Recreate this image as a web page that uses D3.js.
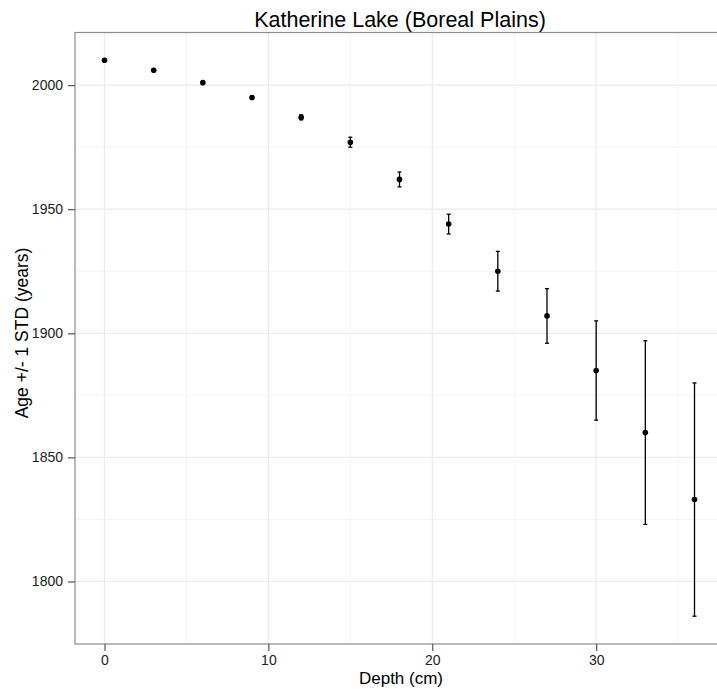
<!DOCTYPE html>
<html>
<head>
<meta charset="utf-8">
<script src="https://cdn.jsdelivr.net/npm/d3@7"></script>
<style>
  body { margin: 0; background: #fff; }
  svg { display: block; font-family: "Liberation Sans", Arial, sans-serif; }
</style>
</head>
<body>
<div id="chart"></div>
<script>
// data
var depths = [0, 3, 6, 9, 12, 15, 18, 21, 24, 27, 30, 33, 36]
var ages   = [2010, 2006, 2001, 1995, 1987, 1977, 1962, 1944, 1925, 1907, 1885, 1860, 1833]
var stds   = [0, 0, 0, 0.5, 1, 2, 3, 4, 8, 11, 20, 37, 47]
var xTicks = [0, 10, 20, 30]
var yTicks = [1800, 1850, 1900, 1950, 2000]

var width = 717, height = 689
var pLeft = 75, pRight = 724, pTop = 32.5, pBottom = 644

var svg = d3.select('#chart')
  .append('svg')
  .attr('width', width)
  .attr('height', height)

var x = d3.scaleLinear()
  .domain([-1.8, 37.8])
  .range([pLeft, pRight])

var y = d3.scaleLinear()
  .domain([1774.8, 2021.2])
  .range([pBottom, pTop])

var data = depths.map((d, i) => ({depth: d, age: ages[i], sd: stds[i]}))

// minor grid
var xMinor = [5, 15, 25, 35]
var yMinor = [1775, 1825, 1875, 1925, 1975]
svg.append('g').selectAll('line').data(xMinor).enter().append('line')
  .attr('x1', d => x(d)).attr('x2', d => x(d))
  .attr('y1', pTop).attr('y2', pBottom)
  .attr('stroke', '#f5f5f5').attr('stroke-width', 1)
svg.append('g').selectAll('line').data(yMinor.filter(d => y(d) < pBottom)).enter().append('line')
  .attr('x1', pLeft).attr('x2', pRight)
  .attr('y1', d => y(d)).attr('y2', d => y(d))
  .attr('stroke', '#f5f5f5').attr('stroke-width', 1)

// major grid
svg.append('g').selectAll('line').data(xTicks).enter().append('line')
  .attr('x1', d => x(d)).attr('x2', d => x(d))
  .attr('y1', pTop).attr('y2', pBottom)
  .attr('stroke', '#ebebeb').attr('stroke-width', 1.2)
svg.append('g').selectAll('line').data(yTicks).enter().append('line')
  .attr('x1', pLeft).attr('x2', pRight)
  .attr('y1', d => y(d)).attr('y2', d => y(d))
  .attr('stroke', '#ebebeb').attr('stroke-width', 1.2)

// panel border
svg.append('rect')
  .attr('x', pLeft).attr('y', pTop)
  .attr('width', pRight - pLeft).attr('height', pBottom - pTop)
  .attr('fill', 'none').attr('stroke', '#8c8c8c').attr('stroke-width', 1.2)

// axes
var axisX = d3.axisBottom(x).tickValues(xTicks).tickSize(7).tickPadding(4).tickFormat(d3.format('d'))
var gx = svg.append('g')
  .attr('transform', `translate(0,${pBottom})`)
  .call(axisX)
gx.select('.domain').remove()
gx.selectAll('line').attr('stroke', '#555').attr('stroke-width', 1.2)
gx.selectAll('text').attr('font-size', 14).attr('fill', '#222')

var axisY = d3.axisLeft(y).tickValues(yTicks).tickSize(7).tickPadding(5).tickFormat(d3.format('d'))
var gy = svg.append('g')
  .attr('transform', `translate(${pLeft},0)`)
  .call(axisY)
gy.select('.domain').remove()
gy.selectAll('line').attr('stroke', '#555').attr('stroke-width', 1.2)
gy.selectAll('text').attr('font-size', 14).attr('fill', '#222')

// error bars
var cap = 2
var bars = svg.append('g').selectAll('g').data(data.filter(d => d.sd > 0)).enter().append('g')
bars.append('line')
  .attr('x1', d => x(d.depth)).attr('x2', d => x(d.depth))
  .attr('y1', d => y(d.age + d.sd)).attr('y2', d => y(d.age - d.sd))
  .attr('stroke', '#000').attr('stroke-width', 1.3)
bars.append('line')
  .attr('x1', d => x(d.depth) - cap).attr('x2', d => x(d.depth) + cap)
  .attr('y1', d => y(d.age + d.sd)).attr('y2', d => y(d.age + d.sd))
  .attr('stroke', '#000').attr('stroke-width', 1.3)
bars.append('line')
  .attr('x1', d => x(d.depth) - cap).attr('x2', d => x(d.depth) + cap)
  .attr('y1', d => y(d.age - d.sd)).attr('y2', d => y(d.age - d.sd))
  .attr('stroke', '#000').attr('stroke-width', 1.3)

// points
svg.append('g').selectAll('circle').data(data).enter().append('circle')
  .attr('cx', d => x(d.depth))
  .attr('cy', d => y(d.age))
  .attr('r', 2.8)
  .attr('fill', '#000')

// titles
svg.append('text')
  .attr('x', 400).attr('y', 27)
  .attr('text-anchor', 'middle')
  .attr('font-size', 21.5)
  .text('Katherine Lake (Boreal Plains)')

svg.append('text')
  .attr('x', 401).attr('y', 684)
  .attr('text-anchor', 'middle')
  .attr('font-size', 17)
  .text('Depth (cm)')

svg.append('text')
  .attr('transform', 'translate(27.5,333) rotate(-90)')
  .attr('text-anchor', 'middle')
  .attr('font-size', 17.5)
  .text('Age +/- 1 STD (years)')
</script>
</body>
</html>
